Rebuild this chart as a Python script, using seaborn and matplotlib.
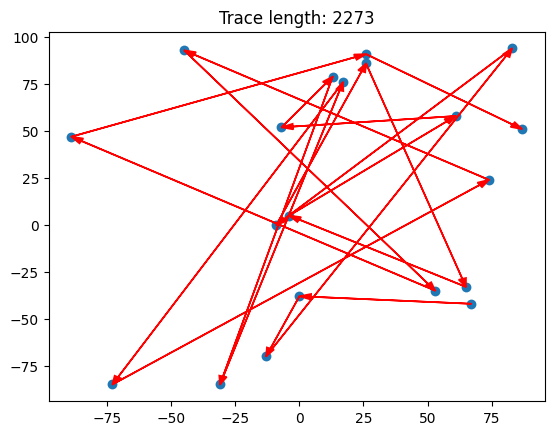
import matplotlib
matplotlib.use('Agg')
import matplotlib.pyplot as plt
import seaborn as sns
import pandas as pd

# points listed in the order they are visited by the trace
xs = [67, 0, -13, 83, -9, 26, 65, -4, 61, -7, 13, -31, 17, -73, 74, -45, 53, -89, 26, 87]
ys = [-42, -38, -70, 94, 0, 86, -33, 5, 58, 52, 79, -85, 76, -85, 24, 93, -35, 47, 91, 51]
trace_length = 2273

df = pd.DataFrame({'x': xs, 'y': ys})

fig, ax = plt.subplots(figsize=(6.4, 4.8))
sns.scatterplot(ax=ax, data=df, x='x', y='y', s=50, color='C0', linewidth=0)

# arrows between consecutive points of the trace
for i in range(len(xs) - 1):
    ax.arrow(xs[i], ys[i], xs[i+1] - xs[i], ys[i+1] - ys[i],
             color='r', head_width=3, head_length=4.5,
             length_includes_head=True, linewidth=1.2)

ax.set_xlabel('')
ax.set_ylabel('')
ax.set_title('Trace length: ' + str(trace_length))
plt.savefig('out.png', dpi=100, bbox_inches='tight')
